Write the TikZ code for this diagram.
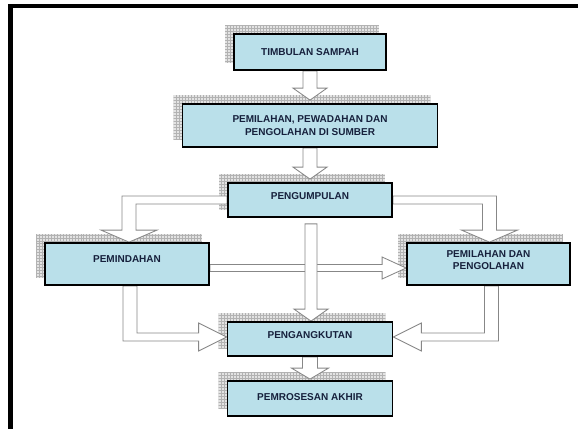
\documentclass[tikz,border=0pt]{standalone}
\usepackage{fontspec}
\setmainfont{Liberation Sans}
\usetikzlibrary{calc,patterns,backgrounds}
\pgfdeclarelayer{arrows}
\pgfsetlayers{background,arrows,main}
\definecolor{boxblue}{RGB}{186,224,234}
\definecolor{txtnavy}{RGB}{22,32,60}
\definecolor{arrgray}{RGB}{135,135,135}
\begin{document}
\begin{tikzpicture}[x=1bp,y=-1bp,
  font=\fontsize{10bp}{12.5bp}\selectfont\bfseries,
  box/.style={draw=black, line width=1.8bp, fill=boxblue, text=txtnavy, inner sep=0pt, align=center},
  blk/.style={draw=arrgray, fill=white, line width=0.85bp, line join=miter},
  shd/.style={fill=gray!22},
  shdpat/.style={pattern=grid, pattern color=gray!60}]
\useasboundingbox (0,0) rectangle (580,429);
% frame
\fill[black] (8,4) rectangle (578,8);
\fill[black] (8,4) rectangle (13,429);
% boxes
\node[box, minimum width=152bp, minimum height=36bp, text height=7.2bp, text depth=0bp] (b1) at (310,52) {TIMBULAN SAMPAH};
\node[box, minimum width=255bp, minimum height=43bp] (b2) at (310,125.5) {PEMILAHAN, PEWADAHAN DAN\\PENGOLAHAN DI SUMBER};
\node[box, minimum width=164bp, minimum height=34bp, text height=7.2bp, text depth=8bp] (b3) at (310,200) {PENGUMPULAN};
\node[box, minimum width=164bp, minimum height=42bp, text height=7.2bp, text depth=10bp] (b4) at (127,264) {PEMINDAHAN};
\node[box, minimum width=163bp, minimum height=42bp, text height=10bp, text depth=11bp] (b5) at (488.5,264) {\begin{tabular}{@{}c@{}}PEMILAHAN DAN\\PENGOLAHAN\end{tabular}};
\node[box, minimum width=165bp, minimum height=34bp, text height=7.2bp, text depth=8bp] (b6) at (310,339) {PENGANGKUTAN};
\node[box, minimum width=165bp, minimum height=35bp, text height=7.2bp, text depth=3bp] (b7) at (310,398.5) {PEMROSESAN AKHIR};
% shadows
\begin{pgfonlayer}{background}
\foreach \b in {b1,b2,b3,b4,b5,b6,b7}{
  \fill[shd] ([shift={(-8,-8)}]\b.north west) rectangle ([shift={(-8,-8)}]\b.south east);
  \fill[shdpat] ([shift={(-8,-8)}]\b.north west) rectangle ([shift={(-8,-8)}]\b.south east);
}
\end{pgfonlayer}
% arrows
\begin{pgfonlayer}{arrows}
\coordinate (t1) at ($(b2.north)+(0,-3)$);
\draw[blk] ($(b1.south)+(-7,0)$) -- ($(t1)+(-7,-12)$) -- ($(t1)+(-17,-12)$) -- (t1) -- ($(t1)+(17,-12)$) -- ($(t1)+(7,-12)$) -- ($(b1.south)+(7,0)$) -- cycle;
\coordinate (t2) at ($(b3.north)+(0,-3)$);
\draw[blk] ($(b2.south)+(-7,0)$) -- ($(t2)+(-7,-12)$) -- ($(t2)+(-17,-12)$) -- (t2) -- ($(t2)+(17,-12)$) -- ($(t2)+(7,-12)$) -- ($(b2.south)+(7,0)$) -- cycle;
% L arrows from PENGUMPULAN
\coordinate (c1) at ($(b4.north)+(2,0)$);
\draw[blk] ($(b3.west)+(0,-4)$) -- ($(c1|-b3.west)+(-7,-4)$) -- ($(c1)+(-7,-12)$) -- ($(c1)+(-28,-12)$) -- (c1) -- ($(c1)+(28,-12)$) -- ($(c1)+(7,-12)$) -- ($(c1|-b3.west)+(7,4)$) -- ($(b3.west)+(0,4)$) -- cycle;
\coordinate (c2) at ($(b5.north)+(1,0)$);
\draw[blk] ($(b3.east)+(0,-4)$) -- ($(c2|-b3.east)+(7,-4)$) -- ($(c2)+(7,-12)$) -- ($(c2)+(28,-12)$) -- (c2) -- ($(c2)+(-28,-12)$) -- ($(c2)+(-7,-12)$) -- ($(c2|-b3.east)+(-7,4)$) -- ($(b3.east)+(0,4)$) -- cycle;
% horizontal PEMINDAHAN -> PEMILAHAN DAN
\coordinate (c5) at ($(b5.west)+(0,4)$);
\draw[blk] ($(b4.east)+(0,0.5)$) -- ($(c5)+(-24,-3.5)$) -- ($(c5)+(-24,-11)$) -- (c5) -- ($(c5)+(-24,11)$) -- ($(c5)+(-24,3.5)$) -- ($(b4.east)+(0,7.5)$) -- cycle;
% vertical PENGUMPULAN -> PENGANGKUTAN
\coordinate (t3) at ($(b6.north)+(1,0)$);
\draw[blk] ($(b3.south)+(-5,6)$) -- ($(t3)+(-6,-12)$) -- ($(t3)+(-17,-12)$) -- (t3) -- ($(t3)+(17,-12)$) -- ($(t3)+(6,-12)$) -- ($(b3.south)+(7,6)$) -- cycle;
% L arrows into PENGANGKUTAN
\coordinate (d3) at ($(b4.south)+(3,0)$);
\coordinate (c3) at ($(b6.west)+(0,-2)$);
\draw[blk] ($(d3)+(-7,0)$) -- ($(d3|-c3)+(-7,4)$) -- ($(c3)+(-28,4)$) -- ($(c3)+(-28,14)$) -- (c3) -- ($(c3)+(-28,-14)$) -- ($(c3)+(-28,-4)$) -- ($(d3|-c3)+(7,-4)$) -- ($(d3)+(7,0)$) -- cycle;
\coordinate (d4) at ($(b5.south)+(3,0)$);
\coordinate (c4) at ($(b6.east)+(0,-2)$);
\draw[blk] ($(d4)+(7,0)$) -- ($(d4|-c4)+(7,4)$) -- ($(c4)+(28,4)$) -- ($(c4)+(28,14)$) -- (c4) -- ($(c4)+(28,-14)$) -- ($(c4)+(28,-4)$) -- ($(d4|-c4)+(-7,-4)$) -- ($(d4)+(-7,0)$) -- cycle;
% PENGANGKUTAN -> PEMROSESAN AKHIR
\coordinate (t4) at ($(b7.north)+(0,-1)$);
\draw[blk] ($(b6.south)+(-7.5,0)$) -- ($(t4)+(-7.5,-11)$) -- ($(t4)+(-18.5,-11)$) -- (t4) -- ($(t4)+(18.5,-11)$) -- ($(t4)+(7.5,-11)$) -- ($(b6.south)+(7.5,0)$) -- cycle;
\end{pgfonlayer}
\end{tikzpicture}
\end{document}
